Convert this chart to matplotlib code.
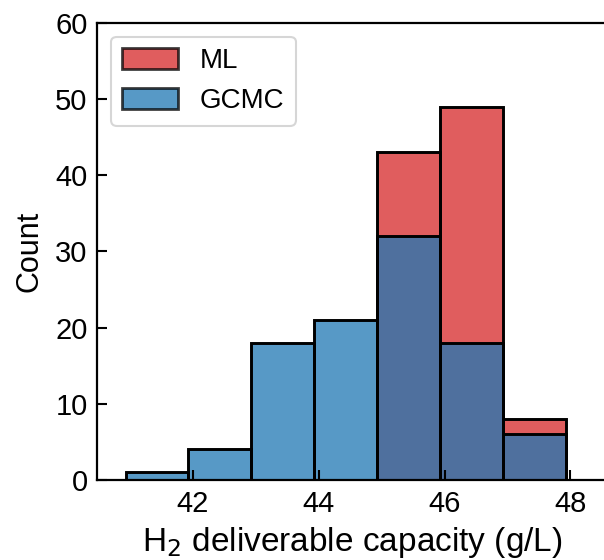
import numpy as np
import matplotlib
matplotlib.use('Agg')
import matplotlib.pyplot as plt

plt.rcParams['font.family'] = ['Liberation Sans', 'DejaVu Sans']

# bin edges (g/L) and counts per bin
binEdges = [40.93, 41.93, 42.93, 43.93, 44.93, 45.93, 46.93, 47.93]
gcmcCounts = [1, 4, 18, 21, 32, 18, 6]
mlCounts = [0, 0, 0, 0, 43, 49, 8]

xTicks = [42, 44, 46, 48]
yTicks = [0, 10, 20, 30, 40, 50, 60]

fig = plt.figure(figsize=(6.04, 5.6), dpi=100)
ax = fig.add_axes([0.161, 0.143, 0.846, 0.816])

binLeft = np.array(binEdges[:-1])
ax.hist(binLeft + 0.5, bins=binEdges, weights=mlCounts, color='tab:red', alpha=0.75,
	edgecolor='black', linewidth=2.0, label='ML')
ax.hist(binLeft + 0.5, bins=binEdges, weights=gcmcCounts, color='tab:blue', alpha=0.75,
	edgecolor='black', linewidth=2.0, label='GCMC')
# redraw black outlines at full opacity
for counts in (mlCounts, gcmcCounts):
	ax.hist(binLeft + 0.5, bins=binEdges, weights=counts, histtype='bar', fill=False,
		edgecolor='black', linewidth=2.0)

ax.set_xlim(40.48, 48.6)
ax.set_ylim(0, 60)
ax.set_xticks(xTicks)
ax.set_yticks(yTicks)
ax.tick_params(direction='in', length=7, width=1.5, labelsize=21, pad=7)
for s in ax.spines.values():
	s.set_linewidth(1.6)
ax.spines['right'].set_visible(False)

ax.set_xlabel('H$_2$ deliverable capacity (g/L)', fontsize=24, labelpad=5)
ax.set_ylabel('Count', fontsize=22, labelpad=8)

leg = ax.legend(loc='upper left', fontsize=20, frameon=True, borderaxespad=0.5,
	handlelength=2.0, handleheight=0.8)
leg.get_frame().set_edgecolor('#cccccc')
leg.get_frame().set_linewidth(1.5)
for h in leg.legend_handles:
	h.set_alpha(0.75)

fig.savefig('out.png', dpi=100)
